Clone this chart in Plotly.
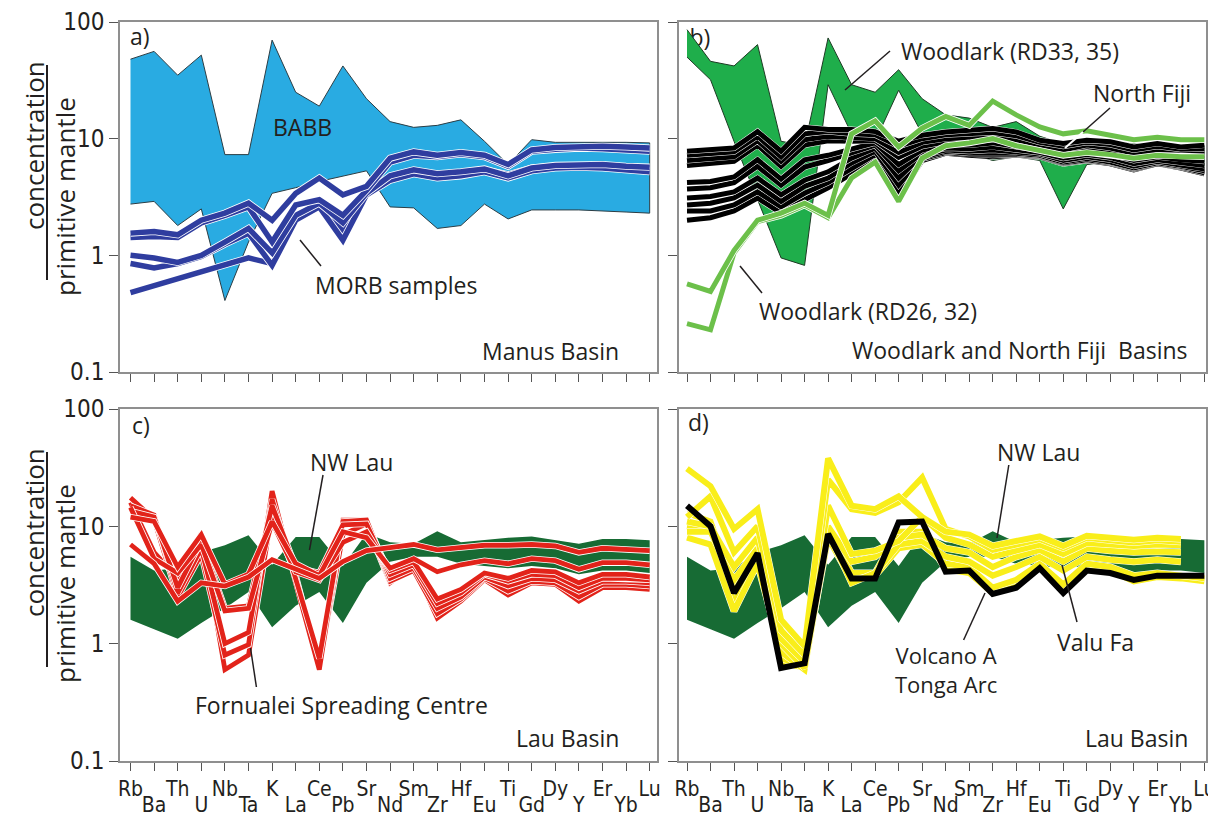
import plotly.graph_objects as go

# ---------------- data ----------------
elements = ["Rb", "Ba", "Th", "U", "Nb", "Ta", "K", "La", "Ce", "Pb", "Sr", "Nd",
            "Sm", "Zr", "Hf", "Eu", "Ti", "Gd", "Dy", "Y", "Er", "Yb", "Lu"]
tick_row1 = ["Rb", "Th", "Nb", "K", "Ce", "Sr", "Sm", "Hf", "Ti", "Dy", "Er", "Lu"]
tick_row2 = ["Ba", "U", "Ta", "La", "Pb", "Nd", "Zr", "Eu", "Gd", "Y", "Yb"]
y_tick_vals = [0.1, 1, 10, 100]
y_tick_text = ["0.1", "1", "10", "100"]

# a) Manus Basin
babb_upper = [48, 56, 35, 52, 7.3, 7.3, 70, 25, 19, 42, 22, 14, 12.5, 13, 14.5, 9.5, 6.0, 9.8, 9.3, 9.3, 9.4, 9.3, 9.2]
babb_lower = [2.75, 2.9, 1.8, 2.5, 0.41, 1.3, 3.4, 3.8, 4.3, 4.8, 5.3, 2.6, 2.55, 1.7, 1.8, 2.75, 2.05, 2.45, 2.45, 2.45, 2.4, 2.35, 2.3]
morb_1 = [1.55, 1.6, 1.5, 2.0, 2.3, 2.8, 2.0, 3.4, 4.6, 3.3, 3.9, 6.8, 7.7, 7.2, 7.6, 7.2, 6.0, 8.0, 8.4, 8.6, 8.6, 8.5, 8.3]
morb_2 = [1.42, 1.45, 1.42, 1.9, 2.2, 2.6, 1.3, 2.7, 3.0, 2.2, 3.6, 6.3, 7.2, 7.0, 7.4, 7.0, 5.8, 7.8, 8.1, 8.3, 8.2, 8.0, 7.8]
morb_3 = [1.0, 0.95, 0.87, 1.0, 1.3, 1.7, 1.05, 2.2, 2.8, 1.9, 3.4, 4.8, 5.4, 5.0, 5.2, 5.5, 4.8, 5.6, 5.9, 6.0, 6.0, 5.8, 5.7]
morb_4 = [0.85, 0.78, 0.85, 0.98, 1.25, 1.55, 0.82, 2.0, 2.6, 1.35, 3.3, 4.4, 5.0, 4.6, 4.8, 5.2, 4.6, 5.3, 5.6, 5.7, 5.6, 5.4, 5.2]
morb_5 = [0.48, 0.55, 0.63, 0.72, 0.82, 0.95, 0.85, 2.1, 2.7, 1.6, 3.4, 4.6, 5.2, 4.9, 5.0, 5.4, 4.9, 5.6, 5.8, 5.9, 5.8, 5.6, 5.3]

# b) Woodlark and North Fiji Basins
woodlark_field_upper = [86, 46, 42, 64, 9.5, 8.7, 73, 29, 25, 39, 22, 16, 15, 12.5, 14, 10.5, 9.0, 10.0, 9.5, 9.0, 8.8, 8.8, 8.7]
woodlark_field_lower = [50, 32, 9.5, 3.0, 0.95, 0.82, 29, 11, 9.5, 26, 11, 9.0, 7.5, 6.5, 7.0, 6.5, 2.5, 6.0, 6.3, 6.0, 6.0, 5.9, 5.8]
north_fiji_1 = [7.8, 8.0, 8.3, 11.5, 7.8, 12.5, 12.0, 12.0, 11.5, 9.5, 10.7, 11.4, 11.8, 12.2, 11.4, 9.7, 9.1, 9.7, 9.4, 8.5, 9.1, 8.5, 8.8]
north_fiji_2 = [7.2, 7.4, 7.7, 10.5, 7.0, 11.0, 11.5, 11.0, 10.8, 8.6, 10.0, 10.8, 11.0, 11.3, 10.6, 9.3, 8.6, 9.3, 8.9, 8.0, 8.6, 8.1, 8.2]
north_fiji_3 = [6.5, 6.7, 7.0, 9.6, 6.4, 9.8, 10.5, 10.2, 10.0, 7.6, 9.3, 10.0, 10.2, 10.5, 9.8, 8.8, 8.0, 8.8, 8.3, 7.5, 8.0, 7.6, 7.6]
north_fiji_4 = [5.9, 6.1, 6.4, 8.8, 5.8, 8.8, 9.6, 9.5, 9.6, 6.9, 8.6, 9.4, 9.5, 9.8, 9.2, 8.4, 7.6, 8.3, 7.8, 7.0, 7.5, 7.1, 7.0]
north_fiji_5 = [4.2, 4.3, 4.7, 6.6, 4.5, 6.6, 7.2, 8.2, 9.2, 6.0, 8.0, 8.8, 8.8, 9.2, 8.6, 8.0, 7.2, 7.8, 7.3, 6.5, 7.0, 6.6, 6.4]
north_fiji_6 = [3.7, 3.8, 4.2, 5.8, 4.0, 5.7, 6.5, 7.6, 8.8, 5.3, 7.5, 8.3, 8.2, 8.5, 8.1, 7.6, 6.8, 7.3, 6.9, 6.1, 6.6, 6.2, 5.9]
north_fiji_7 = [3.1, 3.2, 3.5, 4.6, 3.3, 4.4, 5.2, 6.8, 8.3, 4.6, 7.2, 8.0, 7.8, 8.0, 7.7, 7.4, 6.5, 7.0, 6.6, 5.8, 6.4, 5.9, 5.5]
north_fiji_8 = [2.7, 2.8, 3.1, 4.0, 2.9, 3.9, 4.6, 6.2, 7.8, 4.0, 6.9, 7.8, 7.5, 7.5, 7.5, 7.2, 6.3, 6.8, 6.3, 5.6, 6.2, 5.8, 5.3]
north_fiji_9 = [2.4, 2.4, 2.7, 3.5, 2.6, 3.4, 4.2, 5.6, 7.3, 3.5, 6.7, 7.6, 7.3, 7.2, 7.3, 7.1, 6.2, 6.6, 6.2, 5.5, 6.1, 5.7, 5.1]
north_fiji_10 = [2.0, 2.1, 2.4, 3.1, 2.3, 3.0, 3.8, 5.0, 6.8, 3.1, 6.5, 7.5, 7.2, 7.0, 7.2, 7.0, 6.1, 6.5, 6.1, 5.4, 6.1, 5.6, 5.0]
woodlark_rd_1 = [0.57, 0.49, 1.1, 2.0, 2.3, 2.8, 2.2, 11, 14.2, 8.5, 12.3, 15.5, 13, 21, 16, 12.6, 11, 11.7, 10.7, 9.8, 10.3, 9.8, 9.8]
woodlark_rd_2 = [0.26, 0.23, 1.05, 1.95, 2.2, 2.7, 2.1, 4.6, 6.3, 2.9, 6.8, 8.7, 9.2, 10, 8.7, 8.0, 7.2, 7.6, 7.3, 6.8, 7.2, 7.0, 7.0]

# c), d) Lau Basin
nwlau_upper = [5.5, 4.2, 4.4, 6.0, 6.9, 8.4, 4.7, 8.1, 8.1, 4.6, 8.7, 7.3, 7.1, 9.1, 7.3, 7.6, 8.0, 8.2, 7.6, 7.1, 7.8, 7.8, 7.6]
nwlau_lower = [1.6, 1.33, 1.1, 1.5, 2.0, 2.75, 1.38, 2.1, 2.75, 1.5, 3.3, 5.0, 5.5, 5.5, 4.8, 4.6, 4.4, 4.6, 4.4, 3.9, 4.2, 4.2, 4.0]
fornualei_1 = [7.0, 4.8, 2.3, 3.3, 3.1, 3.7, 5.2, 4.3, 3.6, 5.0, 6.2, 6.6, 7.0, 6.3, 6.6, 6.9, 6.9, 7.0, 6.8, 6.0, 6.5, 6.4, 6.2]
fornualei_2 = [12, 11, 4.5, 8.5, 3.2, 3.9, 11, 4.8, 3.8, 9.0, 8.0, 4.4, 5.3, 4.1, 4.7, 5.1, 4.8, 5.3, 5.1, 4.3, 4.9, 4.9, 4.7]
fornualei_3 = [13.5, 12, 3.0, 7.5, 2.0, 2.1, 15, 4.5, 4.0, 10.3, 10.5, 3.9, 4.7, 2.2, 2.7, 3.9, 3.4, 3.9, 3.8, 3.0, 3.6, 3.6, 3.5]
fornualei_4 = [15, 12.5, 2.7, 6.5, 1.0, 1.25, 17, 3.5, 0.75, 11, 11.3, 3.6, 4.4, 2.0, 2.5, 3.7, 3.1, 3.6, 3.5, 2.8, 3.4, 3.4, 3.3]
fornualei_5 = [17.5, 11.5, 2.5, 5.8, 0.8, 0.98, 20, 3.3, 0.6, 11.3, 11.3, 3.4, 4.2, 1.8, 2.4, 3.6, 2.8, 3.4, 3.3, 2.5, 3.2, 3.2, 3.1]
fornualei_6 = [16, 6.0, 3.6, 8.7, 0.6, 0.8, 13, 3.8, 0.65, 8.5, 10.5, 3.3, 4.6, 1.65, 2.3, 3.5, 2.6, 3.3, 3.2, 2.3, 3.0, 3.0, 2.9]
fornualei_7 = [14.5, 5.3, 4.0, 7.0, 1.9, 2.0, 10.9, 4.1, 3.5, 7.3, 9.0, 4.2, 5.0, 2.4, 2.9, 4.0, 3.6, 4.2, 4.1, 3.3, 3.9, 3.9, 3.7]
valufa_1 = [31, 22, 9.5, 14, 1.6, 0.95, 38, 15, 14, 18, 12, 9.0, 8.5, 6.8, 7.5, 8.2, 6.8, 8.3, 8.0, 7.7, 8.0, 7.8, None]
valufa_2 = [12, 18, 6.0, 10, 1.3, 0.8, 25, 14, 13, 16, 26, 9.5, 8.2, 6.3, 7.0, 7.8, 6.5, 8.0, 7.6, 7.3, 7.6, 7.4, None]
valufa_3 = [11, 10, 4.5, 8.0, 1.1, 0.7, 15, 5.8, 6.2, 7.5, 12, 8.0, 7.0, 5.5, 6.2, 7.0, 5.8, 7.2, 7.0, 6.8, 7.0, 6.9, None]
valufa_4 = [9.0, 9.0, 3.5, 6.5, 1.0, 0.62, 10, 5.0, 5.5, 8.0, 8.5, 6.5, 6.0, 4.5, 5.5, 6.3, 5.0, 6.5, 6.2, 6.0, 6.1, 6.0, None]
valufa_5 = [8.0, 7.0, 1.9, 4.8, 0.85, 0.6, 9.0, 3.3, 4.0, 7.0, 7.5, 5.5, 5.0, 3.8, 4.5, 5.5, 4.2, 5.5, 5.2, 5.0, 5.2, 5.0, None]
valufa_6 = [10, 9.5, 2.2, 5.5, 0.75, 0.65, 8.0, 3.5, 3.8, 6.5, 7.0, 4.8, 4.5, 3.0, 3.5, 4.8, 3.2, 4.8, 4.5, 3.8, 4.0, 3.8, 3.6]
valufa_7 = [13, 11, 3.0, 6.0, 0.7, 0.62, 9.5, 4.0, 4.0, 9.0, 9.0, 4.3, 4.0, 2.7, 3.2, 4.5, 3.0, 4.3, 4.2, 3.4, 3.7, 3.6, 3.4]
volcano_a = [15, 10, 2.7, 5.9, 0.62, 0.68, 8.6, 3.6, 3.6, 10.8, 11, 4.1, 4.2, 2.65, 3.0, 4.4, 2.7, 4.2, 4.0, 3.5, 3.8, 3.8, 3.8]

# ---------------- styling ----------------
W, H = 1216, 819
DY = -4  # global vertical offset of the layout, in pixels
TEXT = "#231f20"
LABEL_FONT = "Open Sans, Lato, DejaVu Sans"
TICK_FONT = "Liberation Sans Narrow, DejaVu Sans Condensed, Roboto Condensed, Roboto"
FRAME = "#8f8f8f"
C_BABB, C_BABB_EDGE = "#29abe2", "#2c3d44"
C_MORB = "#2f3d9f"
C_WL_FIELD, C_WL_EDGE = "#1fae4b", "#1e3b24"
C_WL_RD = "#6cc04a"
C_NWLAU = "#176b34"
C_RED = "#e2231a"
C_YEL = "#f9ee1a"

idx = list(range(len(elements)))
odd_idx = idx[1::2]


def px(x):
    return x / W


def py(y):
    return 1 - (y + DY) / H


fig = go.Figure()


def field(xa, ya, upper, lower, fill, edge, width):
    fig.add_trace(go.Scatter(
        x=idx + idx[::-1], y=upper + lower[::-1], xaxis=xa, yaxis=ya,
        mode="lines", fill="toself", fillcolor=fill,
        line=dict(color=edge, width=width), hoverinfo="skip", showlegend=False))


def profile(xa, ya, vals, color, width, casing=1.0):
    if casing > 0:
        fig.add_trace(go.Scatter(
            x=idx, y=vals, xaxis=xa, yaxis=ya, mode="lines",
            line=dict(color="white", width=width + 2 * casing),
            hoverinfo="skip", showlegend=False))
    fig.add_trace(go.Scatter(
        x=idx, y=vals, xaxis=xa, yaxis=ya, mode="lines",
        line=dict(color=color, width=width),
        hoverinfo="skip", showlegend=False))


# panel a
field("x", "y", babb_upper, babb_lower, C_BABB, C_BABB_EDGE, 1)
for line in [morb_5, morb_4, morb_3, morb_2, morb_1]:
    profile("x", "y", line, C_MORB, 5.5, 0.8)

# panel b  ("b)" label sits under the field, as in the original)
fig.add_trace(go.Scatter(x=[0.55], y=[70], xaxis="x2", yaxis="y2", mode="text",
                         text=["b)"], textfont=dict(family=LABEL_FONT, size=23, color=TEXT),
                         hoverinfo="skip", showlegend=False))
field("x2", "y2", woodlark_field_upper, woodlark_field_lower, C_WL_FIELD, C_WL_EDGE, 1)
for line in [north_fiji_10, north_fiji_9, north_fiji_8, north_fiji_7, north_fiji_6,
             north_fiji_5, north_fiji_4, north_fiji_3, north_fiji_2, north_fiji_1]:
    profile("x2", "y2", line, "black", 5, 0.45)
for line in [woodlark_rd_2, woodlark_rd_1]:
    profile("x2", "y2", line, C_WL_RD, 5, 0.8)

# panel c
field("x3", "y3", nwlau_upper, nwlau_lower, C_NWLAU, C_NWLAU, 0)
for line in [fornualei_6, fornualei_5, fornualei_4, fornualei_3, fornualei_7, fornualei_2, fornualei_1]:
    profile("x3", "y3", line, C_RED, 4.8, 0.8)

# panel d
field("x4", "y4", nwlau_upper, nwlau_lower, C_NWLAU, C_NWLAU, 0)
for line in [valufa_7, valufa_6, valufa_5, valufa_4, valufa_3, valufa_2, valufa_1]:
    profile("x4", "y4", line, C_YEL, 6, 0.5)
profile("x4", "y4", volcano_a, "black", 6, 0)

# invisible traces so that the second-row label axes are drawn
for xa, ya in [("x5", "y3"), ("x6", "y4")]:
    fig.add_trace(go.Scatter(x=[0], y=[1], xaxis=xa, yaxis=ya, mode="markers",
                             marker=dict(opacity=0), hoverinfo="skip", showlegend=False))

# ---------------- axes ----------------
LEFT_DOM = [px(112), px(649)]
RIGHT_DOM = [px(671), px(1198)]
LEFT_RANGE = [-0.445, 22.31]
RIGHT_RANGE = [-0.34, 22.07]
TOP_DOM = [py(368), py(18)]
BOT_DOM = [py(757), py(405)]

row1_text = [tick_row1[i // 2] if i % 2 == 0 else "" for i in idx]


def xaxis(dom, rng, anchor, labels):
    return dict(domain=dom, range=rng, anchor=anchor, tickmode="array", tickvals=idx,
                ticktext=row1_text, showticklabels=labels, ticks="outside", ticklen=8,
                tickwidth=1.2, tickcolor="#555555", showline=True, linecolor=FRAME,
                linewidth=1.5, mirror=True, showgrid=False, zeroline=False, automargin=False,
                ticklabeloverflow="allow",
                tickfont=dict(family=TICK_FONT, size=21, color=TEXT), ticklabelstandoff=0)


def yaxis(dom, anchor, labels):
    return dict(domain=dom, anchor=anchor, type="log", range=[-1, 2], tickmode="array",
                tickvals=y_tick_vals, ticktext=y_tick_text, showticklabels=labels,
                ticks="outside", ticklen=9, tickwidth=1.2, tickcolor="#555555",
                showline=True, linecolor=FRAME, linewidth=1.5, mirror=True,
                showgrid=False, zeroline=False, automargin=False, ticklabeloverflow="allow",
                tickfont=dict(family=TICK_FONT, size=24, color=TEXT))


def row2_axis(dom, rng, anchor, over):
    return dict(domain=dom, range=rng, anchor=anchor, overlaying=over, tickmode="array",
                tickvals=odd_idx, ticktext=tick_row2, ticks="", showline=False,
                showgrid=False, zeroline=False, automargin=False, ticklabelstandoff=29,
                ticklabeloverflow="allow",
                tickfont=dict(family=TICK_FONT, size=21, color=TEXT))


layout = dict(
    template="none",
    width=W, height=H, margin=dict(l=0, r=0, t=0, b=0, autoexpand=False),
    paper_bgcolor="white", plot_bgcolor="white", showlegend=False,
    xaxis=xaxis(LEFT_DOM, LEFT_RANGE, "y", False),
    yaxis=yaxis(TOP_DOM, "x", True),
    xaxis2=xaxis(RIGHT_DOM, RIGHT_RANGE, "y2", False),
    yaxis2=yaxis(TOP_DOM, "x2", False),
    xaxis3=xaxis(LEFT_DOM, LEFT_RANGE, "y3", True),
    yaxis3=yaxis(BOT_DOM, "x3", True),
    xaxis4=xaxis(RIGHT_DOM, RIGHT_RANGE, "y4", True),
    yaxis4=yaxis(BOT_DOM, "x4", False),
    xaxis5=row2_axis(LEFT_DOM, LEFT_RANGE, "y3", "x3"),
    xaxis6=row2_axis(RIGHT_DOM, RIGHT_RANGE, "y4", "x4"),
)
fig.update_layout(**layout)

# ---------------- annotations ----------------
ann = []


def label(text, x, y, size=23, anchor="center", angle=0):
    ann.append(dict(text=text, x=px(x), y=py(y), xref="paper", yref="paper",
                    showarrow=False, xanchor=anchor, yanchor="middle", textangle=angle,
                    font=dict(family=LABEL_FONT, size=size, color=TEXT)))


label("a)", 132, 32)
label("BABB", 294, 123)
label("MORB samples", 388, 281)
label("Manus Basin", 613, 347, anchor="right")
label("Woodlark (RD33, 35)", 1002, 47)
label("North Fiji", 1134, 89)
label("Woodlark (RD26, 32)", 860, 307)
label("Woodlark and North Fiji  Basins", 1182, 346, anchor="right")
label("c)", 133, 421)
label("NW Lau", 343, 458)
label("Fornualei Spreading Centre", 333, 701)
label("Lau Basin", 613, 734, anchor="right")
label("d)", 690, 418)
label("NW Lau", 1030, 448)
ann.append(dict(text="Volcano A<br>Tonga Arc", x=px(938), y=py(665), xref="paper", yref="paper",
                showarrow=False, xanchor="center", yanchor="middle", align="center",
                font=dict(family=LABEL_FONT, size=22, color=TEXT)))
label("Valu Fa", 1087, 638)
label("Lau Basin", 1182, 734, anchor="right")

# y-axis fraction titles
for off in [0, 387]:
    label("concentration", 26, 142 + off, 26, angle=-90)
    label("primitive mantle", 57, 193 + off, 26, angle=-90)

fig.update_layout(annotations=ann)

shapes = []


def seg(x0, y0, x1, y1, color=TEXT, width=1.5):
    shapes.append(dict(type="line", xref="paper", yref="paper", x0=px(x0), y0=py(y0),
                       x1=px(x1), y1=py(y1), line=dict(color=color, width=width)))


for off in [0, 387]:
    seg(39, 61 + off, 39, 276 + off, TEXT, 2)

seg(292, 236, 313, 262)            # MORB samples
seg(882, 47, 837, 86)              # Woodlark RD33,35
seg(1102, 104, 1075, 128)          # North Fiji
seg(1075, 128, 1057, 144, "white", 2)
seg(754, 289, 732, 262)            # Woodlark RD26,32
seg(315, 471, 301.5, 546)          # NW Lau (c)
seg(248.4, 683, 242.5, 644)        # Fornualei
seg(1000.8, 461, 989, 534)         # NW Lau (d)
seg(955.6, 636, 977, 589)          # Volcano A
seg(1069, 618, 1054, 561)          # Valu Fa

fig.update_layout(shapes=shapes)

fig.write_html("out.html")
